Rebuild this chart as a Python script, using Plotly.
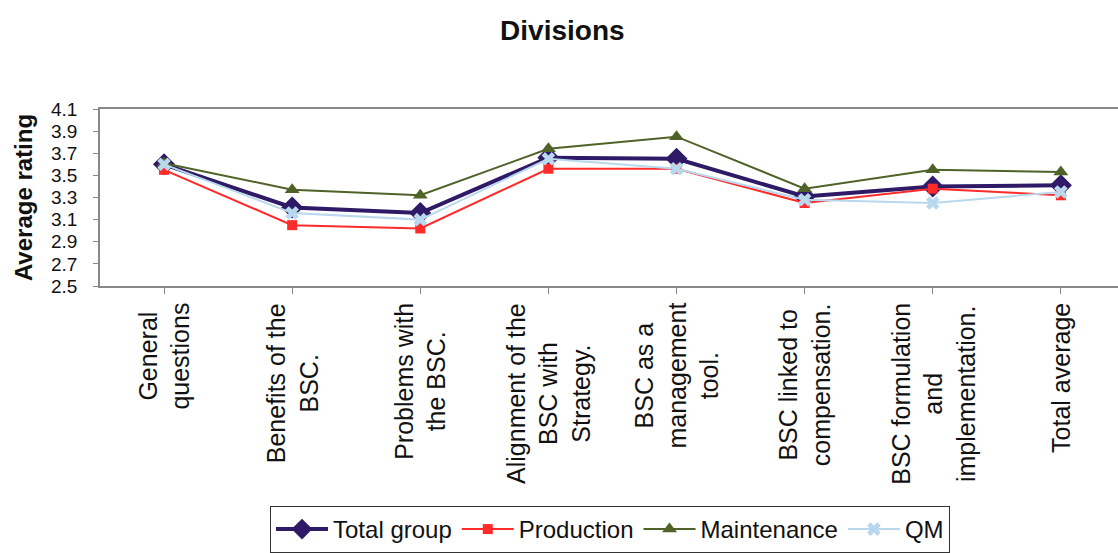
import plotly.graph_objects as go

# Survey dimensions on the x axis (line breaks as printed under the axis)
categories = [
    "General<br>questions",
    "Benefits of the<br>BSC.",
    "Problems with<br>the BSC.",
    "Alignment of the<br>BSC with<br>Strategy.",
    "BSC as a<br>management<br>tool.",
    "BSC linked to<br>compensation.",
    "BSC formulation<br>and<br>implementation.",
    "Total average",
]

# Average ratings per division
total_group = [3.60, 3.21, 3.16, 3.66, 3.65, 3.31, 3.40, 3.41]
production = [3.55, 3.05, 3.02, 3.56, 3.56, 3.25, 3.38, 3.32]
maintenance = [3.61, 3.37, 3.32, 3.74, 3.85, 3.38, 3.55, 3.53]
qm = [3.60, 3.16, 3.10, 3.65, 3.56, 3.28, 3.25, 3.35]

y_ticks = [2.5, 2.7, 2.9, 3.1, 3.3, 3.5, 3.7, 3.9, 4.1]

FONT = "Liberation Sans, Arial, sans-serif"
idx = list(range(len(categories)))

series = [
    ("Total group", total_group, "#2E1A66", 4, "diamond", 17),
    ("Production", production, "#FF2A2A", 2, "square", 10),
    ("Maintenance", maintenance, "#4F6228", 2, "triangle-up", 13),
    ("QM", qm, "#B8D8EE", 2, "x", 12),
]

fig = go.Figure()
for name, vals, color, lw, sym, ms in series:
    fig.add_trace(go.Scatter(
        x=idx, y=vals, name=name, mode="lines+markers",
        line=dict(color=color, width=lw),
        marker=dict(symbol=sym, size=ms, color=color,
                    line=dict(width=0, color=color)),
        cliponaxis=False,
    ))

# Rotated, centred multi-line category labels below the axis
for i, lab in enumerate(categories):
    fig.add_annotation(
        x=i, xref="x", y=-0.085, yref="paper",
        text=lab, textangle=-90, showarrow=False,
        xanchor="center", yanchor="top", align="center",
        font=dict(family=FONT, size=25, color="#111111"),
    )

fig.update_layout(
    width=1118, height=553,
    margin=dict(l=100, r=0, t=109, b=263),
    paper_bgcolor="white", plot_bgcolor="white",
    title=dict(text="<b>Divisions</b>", x=0.503, xref="container",
               y=0.945, yref="container", xanchor="center", yanchor="middle",
               font=dict(family=FONT, size=28, color="#111111")),
    showlegend=True,
    legend=dict(orientation="h", x=0.501, xanchor="center",
                y=-1.243, yanchor="top",
                bordercolor="#333333", borderwidth=1,
                font=dict(family=FONT, size=24, color="#111111"),
                itemwidth=52, tracegroupgap=0),
)

fig.update_xaxes(
    range=[-0.5, 7.446], tickmode="array", tickvals=idx,
    showticklabels=False, tickson="boundaries",
    ticks="outside", ticklen=6, tickcolor="#888888",
    showline=True, linecolor="#888888", linewidth=1.5, mirror=True,
    showgrid=False, zeroline=False, fixedrange=True,
)
fig.update_yaxes(
    range=[2.5, 4.1], tickmode="array", tickvals=y_ticks,
    ticktext=[f"{v:.1f}" for v in y_ticks],
    ticks="outside", ticklen=5, tickcolor="#888888",
    showline=True, linecolor="#888888", linewidth=1.5,
    showgrid=False, zeroline=False,
    tickfont=dict(family=FONT, size=19, color="#111111"),
    ticklabelstandoff=12,
    title=dict(text="<b>Average rating</b>", standoff=12,
               font=dict(family=FONT, size=24, color="#111111")),
)

fig.write_html("out.html")
